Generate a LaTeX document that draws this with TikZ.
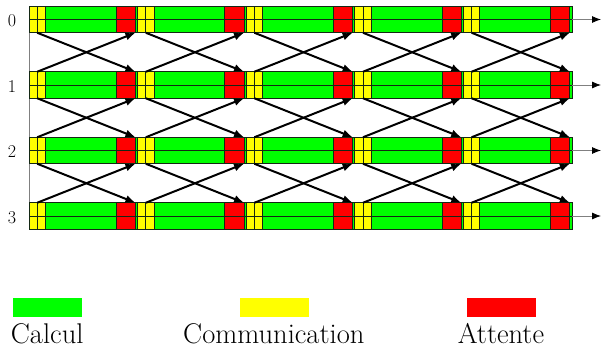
\documentclass[tikz,border=0pt]{standalone}
\usetikzlibrary{arrows.meta}
\definecolor{calc}{RGB}{0,255,0}
\definecolor{comm}{RGB}{255,255,0}
\definecolor{wait}{RGB}{255,0,0}
\definecolor{edge}{RGB}{20,40,20}
\begin{document}
\begin{tikzpicture}[x=1pt,y=-1pt,
  cell/.style={draw=edge,line width=1pt,inner sep=0pt,outer sep=0pt,minimum height=26.5pt},
  calccell/.style={cell,fill=calc,minimum width=108.6pt},
  commcell/.style={cell,fill=comm,minimum width=8.2pt},
  waitcell/.style={cell,fill=wait,minimum width=19.2pt},
  msg/.style={line width=2pt,-{Latex[length=10pt,width=8pt]}},
  exitline/.style={gray,line width=0.8pt,-{Latex[length=9pt,width=7pt,color=black]}},
  proc/.style={font=\fontsize{18}{20}\selectfont,anchor=base},
  legbox/.style={inner sep=0pt,outer sep=0pt,minimum width=69pt,minimum height=18.7pt},
  legtext/.style={font=\fontsize{28.5}{32}\selectfont,anchor=base}]
\useasboundingbox (0,0) rectangle (602,349);

% process axis on the left
\draw[gray,line width=0.8pt] (29,6.25) -- (29,229.25);

% one bar per process: five phases of communication, computation and waiting
\foreach \i in {0,...,3}{
  \pgfmathsetmacro{\Y}{19.5+65.5*\i}
  \node[proc] (p\i) at (12,\Y+7.3) {\i};
  \foreach \k in {0,...,4}{
    \pgfmathsetmacro{\S}{29+108.6*\k}
    \node[calccell] (g-\i-\k) at (\S+54.3,\Y) {};
    \node[commcell] (a-\i-\k) at (\S+4.1,\Y) {};
    \node[commcell] (b-\i-\k) at (\S+12.3,\Y) {};
    \node[waitcell] (w-\i-\k) at (\S+96.9,\Y) {};
  }
  \draw[edge,line width=1pt] (g-\i-0.west) -- (g-\i-4.east);
  \coordinate (o\i) at (601,\Y);
  \draw[exitline] (g-\i-4.east) -- (o\i);
}

% exchanges between neighbouring processes
\foreach \i [evaluate=\i as \j using int(\i+1)] in {0,1,2}{
  \foreach \k in {0,...,4}{
    \draw[msg] (a-\i-\k.south east) -- (w-\j-\k.north east);
    \draw[msg] (a-\j-\k.north east) -- (w-\i-\k.south east);
  }
}

% legend
\node[legbox,fill=calc] (lc) at (47.3,307.35) {};
\node[legbox,fill=comm] (lm) at (274.5,307.35) {};
\node[legbox,fill=wait] (lw) at (501.3,307.35) {};
\node[legtext] (tc) at (47.2,343.3) {Calcul};
\node[legtext] (tm) at (273.8,343.3) {Communication};
\node[legtext] (tw) at (501,343.3) {Attente};
\end{tikzpicture}
\end{document}
